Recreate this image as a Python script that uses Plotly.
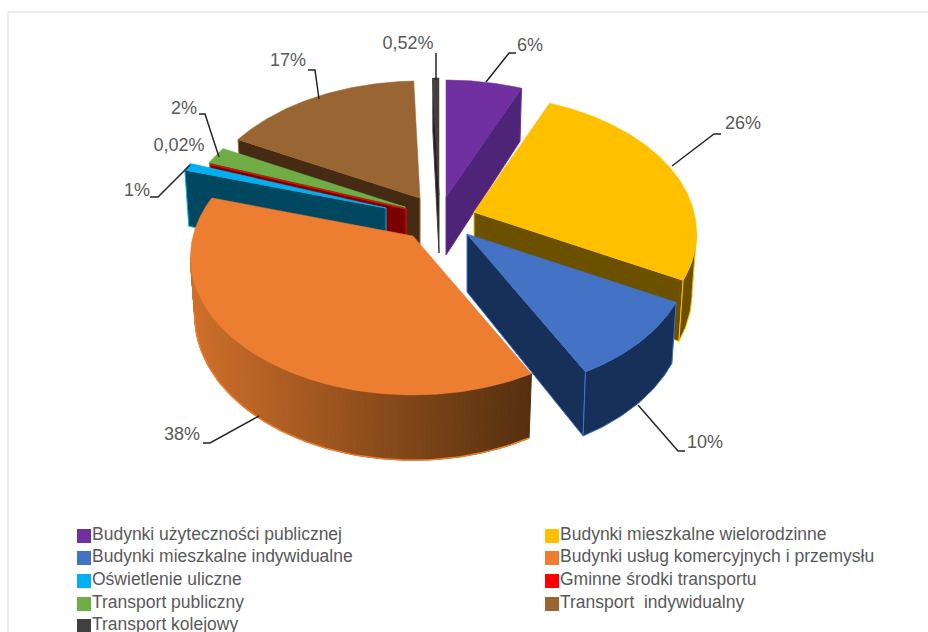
import numpy as np
import plotly.graph_objects as go

# ---- data ----
categories = ["Budynki użyteczności publicznej", "Budynki mieszkalne wielorodzinne",
              "Budynki mieszkalne indywidualne", "Budynki usług komercyjnych i przemysłu",
              "Oświetlenie uliczne", "Gminne środki transportu",
              "Transport publiczny", "Transport  indywidualny", "Transport kolejowy"]
values = [6.4, 26.4, 9.5, 37.5, 0.9, 0.02, 2.0, 16.8, 0.52]
value_labels = ["6%", "26%", "10%", "38%", "1%", "0,02%", "2%", "17%", "0,52%"]

# ---- style ----
top_colors = ["#7030a0", "#ffc000", "#4472c4", "#ed7d31", "#00b0f0", "#ff0000", "#70ad47", "#996633", "#404040"]
face_colors = ["#4e2478", "#6b5000", "#17305a", "#8a4a1c", "#00475f", "#7a0000", "#3c5e26", "#452b14", "#1f1f1f"]
explode_px = [(8, -18), (36, -3), (29, 19), (-25, 21), (-52, -7), (-32, -6), (-33, -8), (-18, -17), (1, -20)]
paint_order = [7, 8, 6, 5, 4, 0, 1, 2, 3]
CENTER = (438, 215)
A, B, K = 220.0, 134.8, 0.152      # projection of the pie disc
DEPTH, XS, YS = 58.0, 0.98, 1.045  # extrusion
START = 0.0
label_pos = [(530, 46), (743, 124), (705, 443), (182, 435), (137, 191), (179, 146), (184, 109), (288, 61), (408, 44)]
leaders = {0: [(486, 82), (509, 53), (516, 53)], 1: [(672, 166), (714, 134), (721, 134)],
           2: [(638, 405), (678, 451), (685, 451)], 3: [(259, 416), (210, 443), (203, 443)],
           4: [(190, 165), (158, 197), (150, 197)], 6: [(219, 157), (205, 114), (199, 114)],
           7: [(319, 99), (315, 70), (308, 70)], 8: [(436, 80), (436, 53)]}
legend_rows = [536, 558, 581, 604, 626]
legend_cols = [(84, 92), (552, 560)]
TEXT = "#595959"
FONT = "Liberation Sans"

fig = go.Figure()


def poly(xs, ys, fill, line=None, width=1):
    fig.add_trace(go.Scatter(x=list(xs), y=list(ys), mode="lines", fill="toself", fillcolor=fill,
                             line=dict(color=line or fill, width=width), hoverinfo="skip", showlegend=False))


def rim(th_deg, ax, ay, bottom=False):
    t = np.radians(th_deg)
    d = 1 + K * np.cos(t)
    dx, dy = A * np.sin(t) / d, -B * np.cos(t) / d
    if bottom:
        return ax + XS * dx, ay + DEPTH + YS * dy
    return ax + dx, ay + dy


def mix(c1, c2, t):
    a = [int(c1[i:i + 2], 16) for i in (1, 3, 5)]
    b = [int(c2[i:i + 2], 16) for i in (1, 3, 5)]
    return "rgb(%d,%d,%d)" % tuple(round(p + (q - p) * t) for p, q in zip(a, b))


total = sum(values)
edges = START + 360 * np.concatenate([[0], np.cumsum(values)]) / total
extreme = np.degrees(np.arccos(-K))

for i in paint_order:
    ax, ay = CENTER[0] + explode_px[i][0], CENTER[1] + explode_px[i][1]
    t0, t1 = edges[i], edges[i + 1]
    base, face = top_colors[i], face_colors[i]
    # cut faces
    for th, vis in ((t0, 180 < t0 % 360 < 360), (t1, 0 < t1 % 360 < 180)):
        if vis:
            rx, ry = rim(th, ax, ay)
            bx, by = rim(th, ax, ay, True)
            poly([ax, rx, bx, ax * 1.0, ax], [ay, ry, by, ay + DEPTH, ay], face, base)
    # outer wall
    s0, s1 = max(t0, extreme), min(t1, 360 - extreme)
    if s1 > s0:
        th = np.linspace(s0, s1, max(int(s1 - s0), 2) + 1)
        if i == 3:
            for a0, a1 in zip(th[:-1], th[1:]):
                x00, y00 = rim(a0, ax, ay)
                x01, y01 = rim(a1, ax, ay)
                x10, y10 = rim(a1, ax, ay, True)
                x11, y11 = rim(a0, ax, ay, True)
                g = np.clip(1 - ((x00 + x01) / 2 - 190) / 338, 0, 1)
                c = mix("#cf6f2a", "#55300f", 1 - g)
                poly([x00, x01, x10, x11, x00], [y00, y01, y10, y11, y00], c)
            bx, by = rim(th, ax, ay, True)
            fig.add_trace(go.Scatter(x=bx, y=by, mode="lines", line=dict(color=base, width=1.5),
                                     hoverinfo="skip", showlegend=False))
        else:
            tx, ty = rim(th, ax, ay)
            bx, by = rim(th[::-1], ax, ay, True)
            poly(np.r_[tx, bx, tx[0]], np.r_[ty, by, ty[0]], face, base)
    # top
    th = np.linspace(t0, t1, max(int(t1 - t0) * 2, 2) + 1)
    tx, ty = rim(th, ax, ay)
    poly(np.r_[ax, tx, ax], np.r_[ay, ty, ay], base, width=0.5)

# leader lines
for pts in leaders.values():
    fig.add_trace(go.Scatter(x=[p[0] for p in pts], y=[p[1] for p in pts], mode="lines",
                             line=dict(color="#262626", width=1.5), hoverinfo="skip", showlegend=False))

# value labels
fig.add_trace(go.Scatter(x=[p[0] for p in label_pos], y=[p[1] for p in label_pos], mode="text",
                         text=value_labels, textposition="middle center",
                         textfont=dict(family=FONT, size=18, color=TEXT), hoverinfo="skip", showlegend=False))

# legend
for k, name in enumerate(categories):
    sx, tx = legend_cols[k % 2]
    yy = legend_rows[k // 2]
    fig.add_trace(go.Scatter(x=[sx], y=[yy], mode="markers",
                             marker=dict(symbol="square", size=14, color=top_colors[k]),
                             hoverinfo="skip", showlegend=False))
    fig.add_trace(go.Scatter(x=[tx], y=[yy], mode="text", text=[name], textposition="middle right",
                             textfont=dict(family=FONT, size=17.5, color=TEXT), hoverinfo="skip", showlegend=False))

fig.update_layout(
    width=928, height=632, margin=dict(l=0, r=0, t=0, b=0),
    paper_bgcolor="white", plot_bgcolor="white", showlegend=False,
    xaxis=dict(range=[0, 928], visible=False, fixedrange=True),
    yaxis=dict(range=[632, 0], visible=False, fixedrange=True),
    shapes=[dict(type="rect", xref="x", yref="y", x0=8, y0=12, x1=960, y1=660,
                 line=dict(color="#d9d9d9", width=1), layer="below")],
)
fig.write_html("out.html", post_script="document.body.style.margin='0';",
               config={"displayModeBar": False})
